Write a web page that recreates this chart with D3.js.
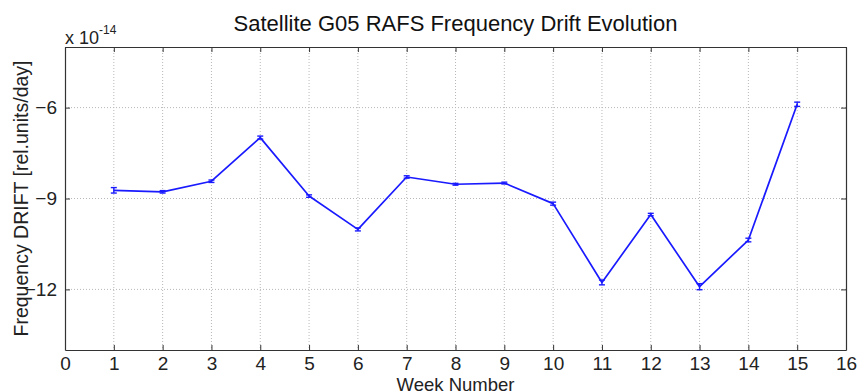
<!DOCTYPE html>
<html>
<head>
<meta charset="utf-8">
<script src="https://cdn.jsdelivr.net/npm/d3@7"></script>
<style>
  html, body { margin: 0; padding: 0; background: #fff; }
  svg { display: block; font-family: "Liberation Sans", Arial, sans-serif; }
</style>
</head>
<body>
<svg id="chart" width="859" height="392"></svg>
<script>
// Weekly RAFS frequency drift estimates (units of 1e-14 per day)
const weeks = [1, 2, 3, 4, 5, 6, 7, 8, 9, 10, 11, 12, 13, 14, 15];
const drift = [-8.73, -8.78, -8.43, -6.99, -8.92, -10.02, -8.29, -8.53, -8.49, -9.17, -11.77, -9.53, -11.91, -10.37, -5.89];
const driftErr = [0.09, 0.04, 0.04, 0.05, 0.04, 0.05, 0.04, 0.03, 0.03, 0.05, 0.08, 0.04, 0.1, 0.06, 0.07];
const xTicks = [0, 1, 2, 3, 4, 5, 6, 7, 8, 9, 10, 11, 12, 13, 14, 15, 16];
const yTicks = [-6, -9, -12];

const W = 859, H = 392;
const margin = { top: 47, right: 13, bottom: 42, left: 65 };
const svg = d3.select("#chart");

const x = d3.scaleLinear().domain([0, 16]).range([margin.left, W - margin.right]);
const y = d3.scaleLinear().domain([-14, -4]).range([H - margin.bottom, margin.top]);

const axisColor = "#333";
const tickLen = 5;

// dotted grid
const grid = svg.append("g");
grid.selectAll("line.gx").data(xTicks.filter(d => d > 0 && d < 16)).join("line")
  .attr("x1", d => x(d)).attr("x2", d => x(d))
  .attr("y1", y(-4)).attr("y2", y(-14))
  .attr("stroke", "#b8b8b8").attr("stroke-width", 1).attr("stroke-dasharray", "1,2");
grid.selectAll("line.gy").data(yTicks).join("line")
  .attr("x1", x(0)).attr("x2", x(16))
  .attr("y1", d => y(d)).attr("y2", d => y(d))
  .attr("stroke", "#b8b8b8").attr("stroke-width", 1).attr("stroke-dasharray", "1,2");

// axes with inward ticks on all four sides
const fontSize = "19px";
const bottomAxis = svg.append("g")
  .attr("transform", `translate(0,${y(-14)})`)
  .call(d3.axisBottom(x).tickValues(xTicks).tickSizeInner(-tickLen).tickSizeOuter(0));
const topAxis = svg.append("g")
  .attr("transform", `translate(0,${y(-4)})`)
  .call(d3.axisTop(x).tickValues(xTicks).tickSizeInner(-tickLen).tickSizeOuter(0).tickFormat(""));
const leftAxis = svg.append("g")
  .attr("transform", `translate(${x(0)},0)`)
  .call(d3.axisLeft(y).tickValues(yTicks).tickSizeInner(-tickLen).tickSizeOuter(0).tickPadding(8));
const rightAxis = svg.append("g")
  .attr("transform", `translate(${x(16)},0)`)
  .call(d3.axisRight(y).tickValues(yTicks).tickSizeInner(-tickLen).tickSizeOuter(0).tickFormat(""));

[bottomAxis, topAxis, leftAxis, rightAxis].forEach(g => {
  g.select(".domain").attr("stroke", axisColor).attr("stroke-width", 1.2);
  g.selectAll(".tick line").attr("stroke", axisColor);
  g.selectAll(".tick text").attr("fill", "#222").style("font-size", fontSize)
    .style("font-family", "'Liberation Sans', Arial, sans-serif");
});
bottomAxis.selectAll(".tick text").attr("y", 20).attr("dy", "0");

// series: line plus error bars
const series = weeks.map((w, i) => ({ w, v: drift[i], e: driftErr[i] }));
const blue = "#1a1aff";

svg.append("path")
  .datum(series)
  .attr("fill", "none")
  .attr("stroke", blue)
  .attr("stroke-width", 1.7)
  .attr("stroke-linejoin", "round")
  .attr("d", d3.line().x(d => x(d.w)).y(d => y(d.v)));

const eb = svg.append("g").attr("stroke", blue).attr("stroke-width", 1.4);
const cap = 3;
eb.selectAll("line.v").data(series).join("line")
  .attr("x1", d => x(d.w)).attr("x2", d => x(d.w))
  .attr("y1", d => y(d.v - d.e)).attr("y2", d => y(d.v + d.e));
eb.selectAll("line.t").data(series).join("line")
  .attr("x1", d => x(d.w) - cap).attr("x2", d => x(d.w) + cap)
  .attr("y1", d => y(d.v + d.e)).attr("y2", d => y(d.v + d.e));
eb.selectAll("line.b").data(series).join("line")
  .attr("x1", d => x(d.w) - cap).attr("x2", d => x(d.w) + cap)
  .attr("y1", d => y(d.v - d.e)).attr("y2", d => y(d.v - d.e));

// labels
svg.append("text")
  .attr("x", (x(0) + x(16)) / 2).attr("y", 31)
  .attr("text-anchor", "middle").attr("fill", "#111")
  .style("font-size", "22px")
  .text("Satellite G05 RAFS Frequency Drift Evolution");

const mult = svg.append("text").attr("x", x(0)).attr("y", 44).attr("fill", "#222").style("font-size", "18px");
mult.append("tspan").text("x 10");
mult.append("tspan").attr("dy", "-10").style("font-size", "12px").text("-14");

svg.append("text")
  .attr("transform", `translate(28,${(y(-4) + y(-14)) / 2}) rotate(-90)`)
  .attr("text-anchor", "middle").attr("fill", "#222")
  .style("font-size", "19.5px")
  .text("Frequency DRIFT [rel.units/day]");

svg.append("text")
  .attr("x", (x(0) + x(16)) / 2).attr("y", 391)
  .attr("text-anchor", "middle").attr("fill", "#222")
  .style("font-size", "18.5px")
  .text("Week Number");
</script>
</body>
</html>
